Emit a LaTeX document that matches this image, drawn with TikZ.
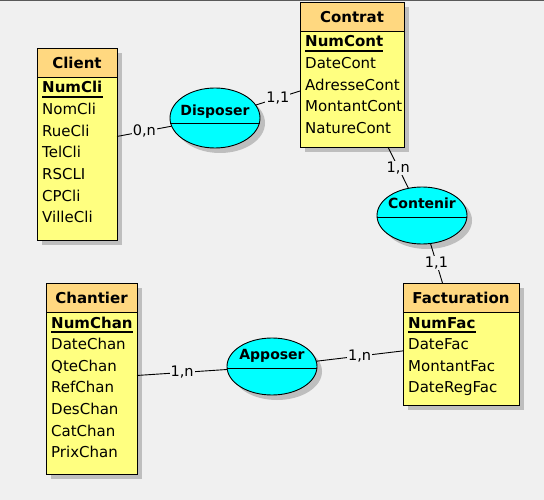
\documentclass[tikz,border=0pt]{standalone}
\usepackage{fontspec}
\setmainfont{DejaVu Sans}
\usetikzlibrary{shapes.geometric,shadows}
\definecolor{fondgris}{RGB}{240,240,240}
\definecolor{orangeclair}{RGB}{255,216,128}
\definecolor{jaune}{RGB}{255,255,128}
\definecolor{grisombre}{RGB}{190,190,190}
\definecolor{turquoise}{RGB}{0,255,255}
\tikzset{
  ombree/.style={drop shadow={shadow xshift=5pt,shadow yshift=-5pt,fill=grisombre,opacity=1}},
  entite/.style={draw,fill=jaune,line width=0.9pt,inner sep=0pt,outer sep=0pt,ombree},
  entete/.style={draw,fill=orangeclair,line width=0.9pt},
  association/.style={ellipse,draw,fill=turquoise,line width=0.9pt,inner sep=0pt,outer sep=0pt,minimum width=90pt,minimum height=57pt,ombree},
  titre/.style={anchor=base,inner sep=0pt,font=\bfseries\fontsize{15}{18}\selectfont},
  verbe/.style={anchor=base,inner sep=0pt,font=\bfseries\fontsize{14}{17}\selectfont},
  cle/.style={anchor=base west,inner sep=0pt,font=\bfseries\fontsize{15}{18}\selectfont},
  attribut/.style={anchor=base west,inner sep=0pt,font=\fontsize{15}{18}\selectfont},
  souligne/.style={line width=1.4pt},
  lien/.style={line width=0.9pt},
  card/.style={fill=fondgris,inner sep=1pt,font=\fontsize{14.5}{17}\selectfont}
}
\begin{document}
\begin{tikzpicture}[x=1pt,y=-1pt]
  \useasboundingbox (0,0) rectangle (544,500);
  \fill[fondgris] (0,0) rectangle (544,500);
  \draw[gray!70!black,line width=1.5pt] (0,0.75) -- (544,0.75);

  % entites
  \node[entite,minimum width=80pt,minimum height=192pt] (client) at (77,144) {};
  \path[entete] (client.north west) rectangle ([yshift=-29pt]client.north east);
  \node[titre] (client-t) at ([yshift=-20.5pt]client.north) {Client};
  \node[cle] (client-k) at ([xshift=5pt,yshift=-45pt]client.north west) {NumCli};
  \draw[souligne] ([yshift=-4pt]client-k.base west) -- ([yshift=-4pt]client-k.base east);
  \foreach \a [count=\i] in {NomCli,RueCli,TelCli,RSCLI,CPCli,VilleCli}
    \node[attribut] (client-\i) at ([xshift=5pt,yshift=-45pt-21.6pt*\i]client.north west) {\a};

  \node[entite,minimum width=104pt,minimum height=145pt] (contrat) at (352,74.5) {};
  \path[entete] (contrat.north west) rectangle ([yshift=-29pt]contrat.north east);
  \node[titre] (contrat-t) at ([yshift=-20.5pt]contrat.north) {Contrat};
  \node[cle] (contrat-k) at ([xshift=5pt,yshift=-45pt]contrat.north west) {NumCont};
  \draw[souligne] ([yshift=-4pt]contrat-k.base west) -- ([yshift=-4pt]contrat-k.base east);
  \foreach \a [count=\i] in {DateCont,AdresseCont,MontantCont,NatureCont}
    \node[attribut] (contrat-\i) at ([xshift=5pt,yshift=-45pt-21.6pt*\i]contrat.north west) {\a};

  \node[entite,minimum width=91pt,minimum height=191pt] (chantier) at (91.5,378.5) {};
  \path[entete] (chantier.north west) rectangle ([yshift=-29pt]chantier.north east);
  \node[titre] (chantier-t) at ([yshift=-20.5pt]chantier.north) {Chantier};
  \node[cle] (chantier-k) at ([xshift=5pt,yshift=-45pt]chantier.north west) {NumChan};
  \draw[souligne] ([yshift=-4pt]chantier-k.base west) -- ([yshift=-4pt]chantier-k.base east);
  \foreach \a [count=\i] in {DateChan,QteChan,RefChan,DesChan,CatChan,PrixChan}
    \node[attribut] (chantier-\i) at ([xshift=5pt,yshift=-45pt-21.6pt*\i]chantier.north west) {\a};

  \node[entite,minimum width=116pt,minimum height=122pt] (facturation) at (461,344) {};
  \path[entete] (facturation.north west) rectangle ([yshift=-29pt]facturation.north east);
  \node[titre] (facturation-t) at ([yshift=-20.5pt]facturation.north) {Facturation};
  \node[cle] (facturation-k) at ([xshift=5pt,yshift=-45pt]facturation.north west) {NumFac};
  \draw[souligne] ([yshift=-4pt]facturation-k.base west) -- ([yshift=-4pt]facturation-k.base east);
  \foreach \a [count=\i] in {DateFac,MontantFac,DateRegFac}
    \node[attribut] (facturation-\i) at ([xshift=5pt,yshift=-45pt-21.6pt*\i]facturation.north west) {\a};

  % associations
  \node[association,minimum height=60pt] (disposer) at (215,118) {};
  \draw[lien] ([yshift=-5pt]disposer.west) -- ([yshift=-5pt]disposer.east);
  \node[verbe] (disposer-t) at ([yshift=2pt]disposer.center) {Disposer};

  \node[association] (contenir) at (422,215.5) {};
  \draw[lien] ([yshift=-1.5pt]contenir.west) -- ([yshift=-1.5pt]contenir.east);
  \node[verbe] (contenir-t) at ([yshift=7.5pt]contenir.center) {Contenir};

  \node[association] (apposer) at (272,366.5) {};
  \draw[lien] ([yshift=-1.5pt]apposer.west) -- ([yshift=-1.5pt]apposer.east);
  \node[verbe] (apposer-t) at ([yshift=7.5pt]apposer.center) {Apposer};

  % liens
  \draw[lien] (client) -- node[card] (c1) {0,n} (disposer);
  \draw[lien] (disposer) -- node[card] (c2) {1,1} (contrat);
  \draw[lien] (contrat) -- node[card] (c3) {1,n} (contenir);
  \draw[lien] (contenir) -- node[card] (c4) {1,1} (facturation);
  \draw[lien] (chantier) -- node[card] (c5) {1,n} (apposer);
  \draw[lien] (apposer) -- node[card] (c6) {1,n} (facturation);
\end{tikzpicture}
\end{document}
